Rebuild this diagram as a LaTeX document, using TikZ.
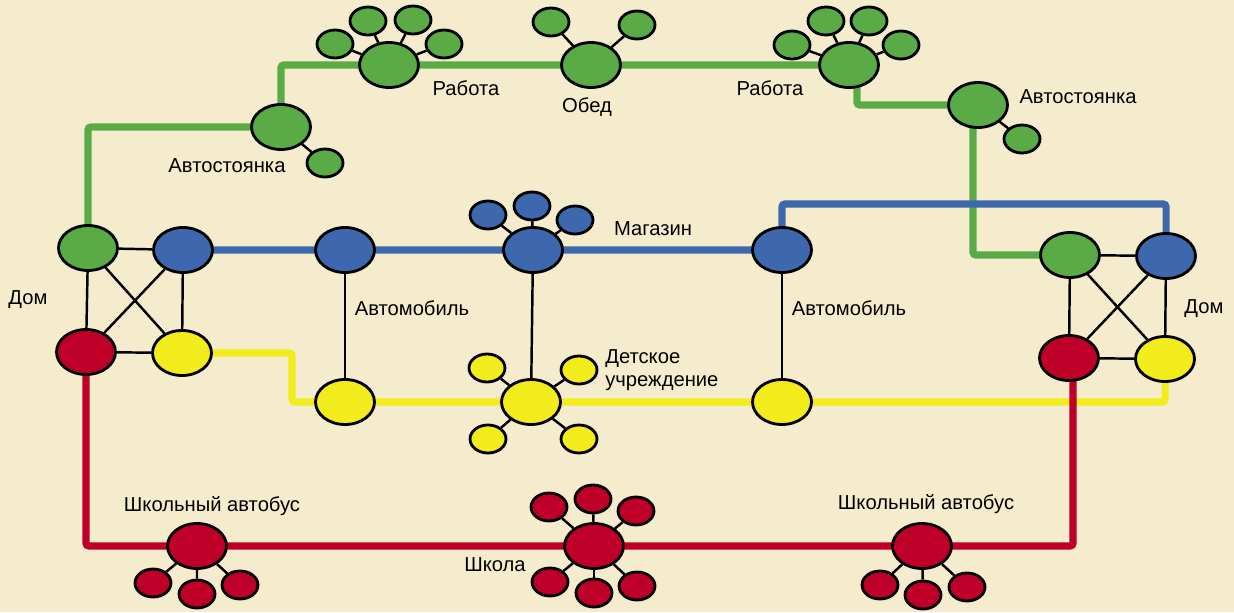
\documentclass[tikz,border=0pt]{standalone}
\usepackage{fontspec}
\setmainfont{Liberation Sans}
\usetikzlibrary{shapes.geometric}
\definecolor{paper}{HTML}{F5ECCE}
\definecolor{lgreen}{HTML}{5AAA46}
\definecolor{lblue}{HTML}{3E68AD}
\definecolor{lred}{HTML}{BE0029}
\definecolor{lyellow}{HTML}{F2EC1C}
\pgfdeclarelayer{paperlayer}
\pgfdeclarelayer{linelayer}
\pgfsetlayers{paperlayer,linelayer,main}

\begin{document}
\begin{tikzpicture}[x=0.02cm, y=-0.02cm,
        stopnode/.style={ellipse, draw=black, line width=1.6pt, minimum width=1.18cm, minimum height=0.9cm, inner sep=0pt},
        subnode/.style={ellipse, draw=black, line width=1.6pt, minimum width=0.72cm, minimum height=0.56cm, inner sep=0pt},
        lbl/.style={font=\fontsize{11.5}{13}\selectfont, inner sep=0pt},
        route/.style={line width=4pt, rounded corners=1.5pt},
        link/.style={line width=1.4pt, black}]
        \useasboundingbox (0,0) rectangle (1234,612);
        \begin{pgfonlayer}{paperlayer}
            \fill[paper] (0,0) rectangle (1234,612);
        \end{pgfonlayer}

        % Дом
        \node[stopnode, fill=lgreen] (homeLg) at (88,248) {};
        \node[stopnode, fill=lblue] (homeLb) at (183,250) {};
        \node[stopnode, fill=lred] (homeLr) at (86,352) {};
        \node[stopnode, fill=lyellow] (homeLy) at (182,353) {};
        \node[stopnode, fill=lgreen] (homeRg) at (1070,255) {};
        \node[stopnode, fill=lblue] (homeRb) at (1166,256) {};
        \node[stopnode, fill=lred] (homeRr) at (1069,358) {};
        \node[stopnode, fill=lyellow] (homeRy) at (1165,359) {};

        % green
        \node[stopnode, fill=lgreen] (parkL) at (281,127) {};
        \node[stopnode, fill=lgreen] (workL) at (389,65) {};
        \node[stopnode, fill=lgreen] (lunch) at (591,65) {};
        \node[stopnode, fill=lgreen] (workR) at (849,65) {};
        \node[stopnode, fill=lgreen] (parkR) at (978,105) {};
        \foreach \p [count=\i] in {(325,163)} \node[subnode, fill=lgreen] (parkL\i) at \p {};
        \foreach \p [count=\i] in {(335,44), (368,21), (413,20), (444,44)} \node[subnode, fill=lgreen] (workL\i) at \p {};
        \foreach \p [count=\i] in {(551,22), (637,25)} \node[subnode, fill=lgreen] (lunch\i) at \p {};
        \foreach \p [count=\i] in {(792,45), (826,21), (869,21), (901,45)} \node[subnode, fill=lgreen] (workR\i) at \p {};
        \foreach \p [count=\i] in {(1022,139)} \node[subnode, fill=lgreen] (parkR\i) at \p {};

        % blue
        \node[stopnode, fill=lblue] (carLb) at (345,250) {};
        \node[stopnode, fill=lblue] (shop) at (533,250) {};
        \node[stopnode, fill=lblue] (carRb) at (782,250) {};
        \foreach \p [count=\i] in {(488,215), (532,206), (575,220)} \node[subnode, fill=lblue] (shop\i) at \p {};
        \coordinate (bluebend) at (980,204);

        % yellow
        \node[stopnode, fill=lyellow] (carLy) at (345,402) {};
        \node[stopnode, fill=lyellow] (kids) at (531,402) {};
        \node[stopnode, fill=lyellow] (carRy) at (782,402) {};
        \foreach \p [count=\i] in {(487,368), (579,370), (488,439), (579,439)} \node[subnode, fill=lyellow] (kids\i) at \p {};
        \coordinate (yellowbend) at (292,380);

        % red
        \node[stopnode, fill=lred] (busL) at (197,546) {};
        \node[stopnode, fill=lred] (school) at (594,546) {};
        \node[stopnode, fill=lred] (busR) at (922,546) {};
        \foreach \p [count=\i] in {(153,583), (197,594), (240,585)} \node[subnode, fill=lred] (busL\i) at \p {};
        \foreach \p [count=\i] in {(549,507), (593,499), (636,511), (550,582), (594,593), (637,586)} \node[subnode, fill=lred] (school\i) at \p {};
        \foreach \p [count=\i] in {(880,585), (923,595), (967,587)} \node[subnode, fill=lred] (busR\i) at \p {};

        \begin{pgfonlayer}{linelayer}
            \draw[route, lgreen] (homeLg.center) |- (parkL.center) |- (workL.center) -- (lunch.center) -- (workR.center)
                -- ([xshift=0.16cm]workR.center) |- (parkR.center) ([xshift=-0.1cm]parkR.center) |- (homeRg.center);
            \draw[route, lblue] (homeLb.center) -- (carLb.center) -- (shop.center) -- (carRb.center) |- (bluebend) -| (homeRb.center);
            \draw[route, lyellow] (homeLy.center) -| (yellowbend) |- (carLy.center) -- (kids.center) -- (carRy.center) -| (homeRy.center);
            \draw[route, lred] (homeLr.center) |- (busL.center) -- (school.center) -- (busR.center) -| ([xshift=0.08cm]homeRr.center);

            \foreach \s/\t in {homeLg/homeLb, homeLg/homeLr, homeLg/homeLy, homeLb/homeLr, homeLb/homeLy, homeLr/homeLy,
                    homeRg/homeRb, homeRg/homeRr, homeRg/homeRy, homeRb/homeRr, homeRb/homeRy, homeRr/homeRy,
                    carLb/carLy, shop/kids, carRb/carRy, parkL/parkL1, parkR/parkR1, lunch/lunch1, lunch/lunch2}
                \draw[link] (\s) -- (\t);
            \foreach \i in {1,...,4} \draw[link] (workL) -- (workL\i) (workR) -- (workR\i) (kids) -- (kids\i);
            \foreach \i in {1,...,3} \draw[link] (shop) -- (shop\i) (busL) -- (busL\i) (busR) -- (busR\i);
            \foreach \i in {1,...,6} \draw[link] (school) -- (school\i);
        \end{pgfonlayer}

        \node[lbl] (homeLtext) at (28,300) {Дом};
        \node[lbl] (homeRtext) at (1204,309) {Дом};
        \node[lbl] (parkLtext) at (227,166) {Автостоянка};
        \node[lbl] (parkRtext) at (1078,97) {Автостоянка};
        \node[lbl] (workLtext) at (466,88) {Работа};
        \node[lbl] (workRtext) at (770,88) {Работа};
        \node[lbl] (lunchtext) at (587,107) {Обед};
        \node[lbl] (shoptext) at (653,229) {Магазин};
        \node[lbl] (carLtext) at (412,308) {Автомобиль};
        \node[lbl] (carRtext) at (849,308) {Автомобиль};
        \node[lbl, anchor=west, align=left] (kidstext) at (605,370) {Детское\\учреждение};
        \node[lbl] (busLtext) at (212,506) {Школьный автобус};
        \node[lbl] (busRtext) at (926,504) {Школьный автобус};
        \node[lbl] (schooltext) at (495,565) {Школа};
\end{tikzpicture}
\end{document}
